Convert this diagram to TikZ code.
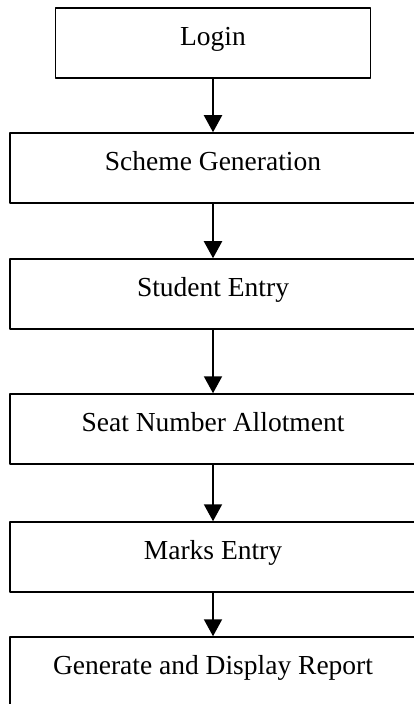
\documentclass[tikz,border=0pt]{standalone}
\usepackage{fontspec}
\setmainfont{Liberation Serif}
\usetikzlibrary{arrows.meta}
\begin{document}
\begin{tikzpicture}[x=0.5pt,y=-0.5pt,line join=round,>={Triangle[width=9pt,length=8.5pt]},font=\fontsize{13.75}{16}\selectfont,
	stepbox/.style={draw,line width=0.75pt,minimum height=35pt,minimum width=203pt,text height=0.7em,text depth=0.45em,inner sep=0pt}]
	\useasboundingbox (0,0) rectangle (413,704);
	\node[stepbox,minimum width=157.5pt] (login) at (213,43) {Login};
	\node[stepbox] (scheme) at (213,168) {Scheme Generation};
	\node[stepbox] (student) at (213,294) {Student Entry};
	\node[stepbox] (seat) at (213,429) {Seat Number Allotment};
	\node[stepbox] (marks) at (213,557) {Marks Entry};
	\node[stepbox] (report) at (213,672) {Generate and Display Report};
	\foreach \a/\b in {login/scheme,scheme/student,student/seat,seat/marks,marks/report}
	\draw[line width=1pt,->] (\a) -- (\b);
\end{tikzpicture}
\end{document}
